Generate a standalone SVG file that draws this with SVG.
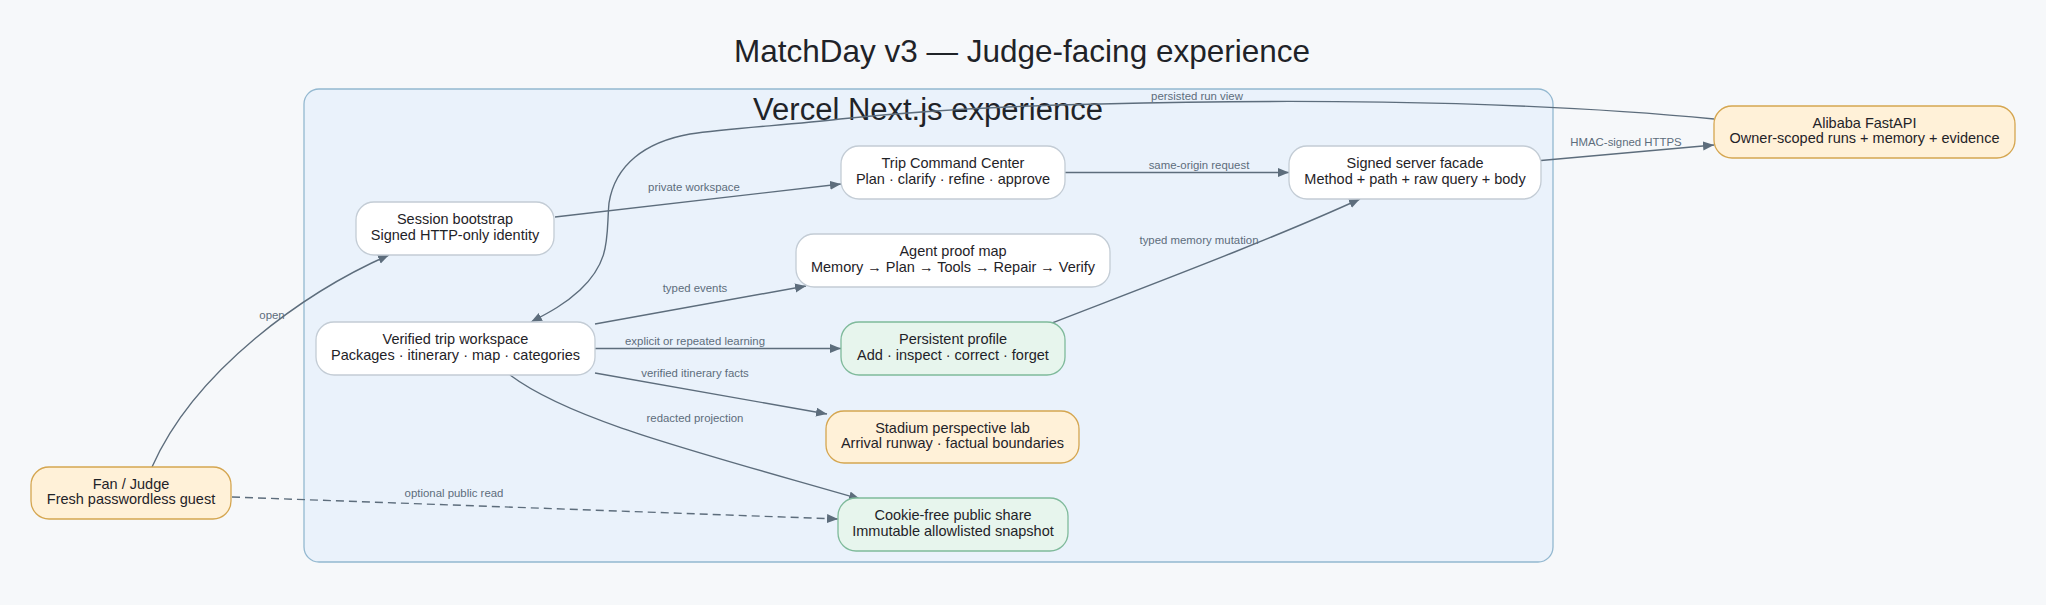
<svg xmlns="http://www.w3.org/2000/svg" width="2046" height="605" viewBox="0 0 2046 605">
<defs>
<style>
.title{font-family:"Liberation Sans",Arial,sans-serif;font-size:31.5px;fill:#1f2328;text-anchor:middle}
.clabel{font-family:"Liberation Sans",Arial,sans-serif;font-size:31px;fill:#1f2328;text-anchor:middle}
.node rect{stroke-width:1.3}
.white rect{fill:#ffffff;stroke:#c3ccd5}
.orange rect{fill:#fff1d8;stroke:#d5a650}
.green rect{fill:#e7f5ed;stroke:#7fba9b}
.node text{font-family:"Liberation Sans",Arial,sans-serif;font-size:14.5px;fill:#1f2328;text-anchor:middle}
.edge{fill:none;stroke:#5d6d7c;stroke-width:1.4}
.elabel{font-family:"Liberation Sans",Arial,sans-serif;font-size:11.4px;fill:#5d6d7c;text-anchor:middle}
</style>
<marker id="arr" markerUnits="userSpaceOnUse" markerWidth="12" markerHeight="10" refX="11" refY="4.5" orient="auto">
<path d="M0,0 L11,4.5 L0,9 z" fill="#5d6d7c"/>
</marker>
</defs>
<rect x="0" y="0" width="2046" height="605" fill="#f6f8fa"/>
<text class="title" x="1022" y="62">MatchDay v3 — Judge-facing experience</text>

<g id="cluster-vercel">
<rect x="304" y="89" width="1249" height="473" rx="15" fill="#eaf2fb" stroke="#93b8d0" stroke-width="1.3"/>
<text class="clabel" x="928" y="120">Vercel Next.js experience</text>
</g>

<g id="connectors">
<path class="edge" marker-end="url(#arr)" d="M152,467 C195,370 305,292 389,255"/>
<text class="elabel" x="272" y="319">open</text>
<path class="edge" marker-end="url(#arr)" d="M555,217 L841,184"/>
<text class="elabel" x="694" y="191">private workspace</text>
<path class="edge" marker-end="url(#arr)" d="M1065,172.5 L1289,172.5"/>
<text class="elabel" x="1199" y="169">same-origin request</text>
<path class="edge" marker-end="url(#arr)" d="M1541,160.5 L1714,145"/>
<text class="elabel" x="1626" y="145.5">HMAC-signed HTTPS</text>
<path class="edge" marker-end="url(#arr)" d="M1714,119 C1500,98 1250,100 1100,104 C1000,106 900,113 840,119 C790,125 730,128 690,134 C645,142 615,165 609,203 C606,235 612,260 580,290 C565,304 550,312 531,322"/>
<text class="elabel" x="1197" y="100">persisted run view</text>
<path class="edge" marker-end="url(#arr)" d="M595,324 L806,286"/>
<text class="elabel" x="695" y="291.5">typed events</text>
<path class="edge" marker-end="url(#arr)" d="M595,348.5 L841,348.5"/>
<text class="elabel" x="695" y="344.5">explicit or repeated learning</text>
<path class="edge" marker-end="url(#arr)" d="M595,373 L827,414"/>
<text class="elabel" x="695" y="376.5">verified itinerary facts</text>
<path class="edge" marker-end="url(#arr)" d="M510,375 C570,420 690,450 860,499"/>
<text class="elabel" x="695" y="421.5">redacted projection</text>
<path class="edge" marker-end="url(#arr)" d="M1052,323 C1150,285 1270,240 1360,199"/>
<text class="elabel" x="1199" y="244">typed memory mutation</text>
<path class="edge" marker-end="url(#arr)" stroke-dasharray="8,5" d="M232,497 L838,519"/>
<text class="elabel" x="454" y="496.5">optional public read</text>
</g>

<g id="session-bootstrap" class="node white">
<rect x="356" y="202" width="198" height="53" rx="18"/>
<text x="455" y="224">Session bootstrap</text>
<text x="455" y="239.5">Signed HTTP-only identity</text>
</g>
<g id="trip-command-center" class="node white">
<rect x="841" y="146" width="224" height="53" rx="18"/>
<text x="953" y="168">Trip Command Center</text>
<text x="953" y="183.5">Plan · clarify · refine · approve</text>
</g>
<g id="agent-proof-map" class="node white">
<rect x="796" y="234" width="314" height="53" rx="18"/>
<text x="953" y="256">Agent proof map</text>
<text x="953" y="271.5">Memory → Plan → Tools → Repair → Verify</text>
</g>
<g id="signed-server-facade" class="node white">
<rect x="1289" y="146" width="252" height="53" rx="18"/>
<text x="1415" y="168">Signed server facade</text>
<text x="1415" y="183.5">Method + path + raw query + body</text>
</g>
<g id="alibaba-fastapi" class="node orange">
<rect x="1714" y="106" width="301" height="52" rx="18"/>
<text x="1864.5" y="127.5">Alibaba FastAPI</text>
<text x="1864.5" y="143">Owner-scoped runs + memory + evidence</text>
</g>
<g id="verified-trip-workspace" class="node white">
<rect x="316" y="322" width="279" height="53" rx="18"/>
<text x="455.5" y="344">Verified trip workspace</text>
<text x="455.5" y="359.5">Packages · itinerary · map · categories</text>
</g>
<g id="persistent-profile" class="node green">
<rect x="841" y="322" width="224" height="53" rx="18"/>
<text x="953" y="344">Persistent profile</text>
<text x="953" y="359.5">Add · inspect · correct · forget</text>
</g>
<g id="stadium-perspective-lab" class="node orange">
<rect x="826" y="411" width="253" height="52" rx="18"/>
<text x="952.5" y="432.5">Stadium perspective lab</text>
<text x="952.5" y="448">Arrival runway · factual boundaries</text>
</g>
<g id="cookie-free-public-share" class="node green">
<rect x="838" y="498" width="230" height="53" rx="18"/>
<text x="953" y="520">Cookie-free public share</text>
<text x="953" y="535.5">Immutable allowlisted snapshot</text>
</g>
<g id="fan-judge" class="node orange">
<rect x="31" y="467" width="200" height="52" rx="18"/>
<text x="131" y="488.5">Fan / Judge</text>
<text x="131" y="504">Fresh passwordless guest</text>
</g>
</svg>
